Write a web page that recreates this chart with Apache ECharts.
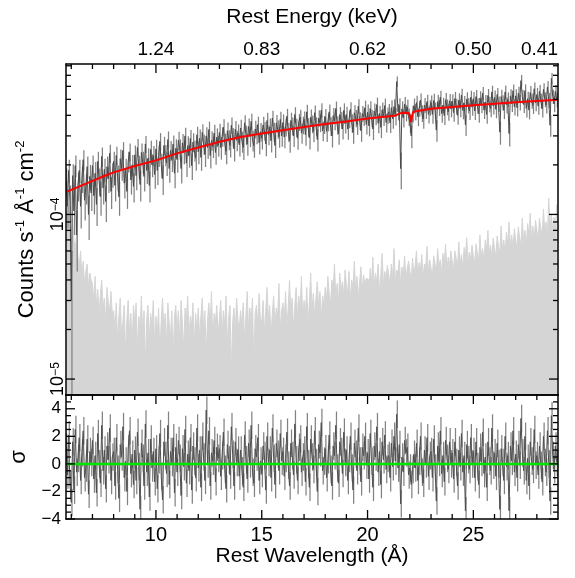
<!DOCTYPE html>
<html><head><meta charset="utf-8">
<script src="https://cdn.jsdelivr.net/npm/echarts@6/dist/echarts.min.js"></script>
<style>html,body{margin:0;padding:0;background:#fff}#c{width:575px;height:578px}</style>
</head><body><div id="c"></div>
<script>
// ---- data (flux in units of 1e-6 counts s^-1 A^-1 cm^-2) ----
const binStart = 5.75, binWidth = 0.0625;
const dataFlux = [
160,112,185,120,
30,172,105,198,75,150,185,112,165,215,122,145,195,100,170,135,
198,130,178,115,210,160,128,225,145,188,120,195,165,235,138,175,
210,150,228,168,128,218,190,245,155,188,138,210,240,162,200,148,
230,172,255,195,152,238,208,170,268,185,220,150,248,200,228,175,
250,185,228,278,200,165,262,230,205,285,190,245,215,268,178,252,
215,282,250,190,272,238,300,205,262,228,290,198,275,245,220,305,
240,290,222,315,268,232,300,255,328,228,282,258,312,238,295,262,
315,255,298,338,270,242,322,285,262,348,295,250,330,282,312,265,
335,278,255,360,305,268,342,298,368,282,262,330,308,352,272,318,
290,350,322,268,372,305,340,280,385,318,262,360,330,296,378,300,
362,295,340,395,318,280,372,345,300,405,338,290,365,390,312,350,
378,305,420,340,292,390,355,318,415,345,285,385,360,430,322,352,
392,320,365,420,345,300,398,370,440,350,310,405,375,330,428,355,
405,330,380,435,360,315,415,385,350,455,372,322,410,390,445,352,
418,345,440,385,330,425,395,465,358,410,338,432,392,458,362,400,
420,360,445,380,452,395,640,420,460,190,438,385,468,415,450,392,
360,300,410,458,420,478,392,440,495,412,380,462,428,485,405,445,
478,405,492,430,325,485,445,515,410,462,398,498,450,420,490,438,
488,415,505,455,400,495,440,530,428,475,350,502,460,425,515,448,
505,425,520,458,410,510,462,545,430,482,405,528,468,440,555,455,
515,435,535,470,316,520,478,430,555,462,500,310,525,470,565,450,
525,445,545,480,650,520,465,565,440,505,430,550,490,460,580,475,
535,455,560,490,440,575,500,462,595,495,348,670,520,470,560,498
];
// 1-sigma error per 1-A segment (5.75-6, 6-7, ..., 28-29), same units
const errPerAngstrom = [30,30,30,30,32,34,36,38,40,41,42,43,44,45,46,47,48,48,49,50,50,51,52,52];
const bgFlux = [
105,90,112,85,
80,95,70,62,75,55,48,60,42,52,38,45,50,36,44,40,
38,30,42,28,35,24,33,40,27,31,22,36,29,26,34,25,
26,20,29,17,24,31,18,22,28,14,23,30,19,25,16,28,
22,29,15,24,20,32,18,26,12,23,28,17,25,21,30,16,
24,19,27,14,23,31,20,25,16,29,22,18,26,13,24,28,
20,26,17,30,22,15,27,23,32,18,24,21,29,16,25,20,
27,18,24,31,20,26,14,23,29,21,34,17,25,22,28,19,
23,30,18,26,21,32,16,24,28,11,22,27,19,31,23,20,
26,21,29,17,24,34,20,27,22,31,12,25,28,21,33,23,
22,30,19,26,36,23,28,18,25,32,21,27,24,38,20,26,
29,23,34,21,27,40,25,31,20,28,36,24,32,26,42,23,
30,25,36,22,29,44,26,33,24,31,39,27,34,23,32,28,
36,30,42,33,28,40,35,50,31,38,29,44,34,39,32,46,
38,33,45,30,40,36,52,34,42,31,39,48,35,43,37,41,
40,35,47,38,55,36,44,39,50,34,42,58,37,45,41,49,
43,38,50,41,62,39,46,44,53,37,48,42,56,40,47,52,
45,40,54,43,49,60,42,51,46,57,41,50,48,64,44,53,
47,42,56,50,45,62,48,53,44,58,51,66,46,55,49,60,
52,46,60,54,48,68,50,57,47,63,55,72,51,59,53,65,
56,50,66,58,52,75,55,62,51,70,60,80,57,65,54,72,
62,55,74,64,58,85,60,70,57,78,66,90,63,75,61,82,
70,62,84,72,65,95,68,80,64,88,75,102,70,85,69,92,
80,70,95,82,74,108,77,90,73,125,85,100,79,96,78,115
];
const resid = [
1.2,-0.8,2.1,-1.5,
-2.8,1.6,-1.9,2.5,-0.6,0.4,1.9,-1.2,0.8,2.4,-1.0,-0.3,1.8,-2.2,0.9,0.1,
1.7,-1.1,0.6,-2.1,2.2,0.0,-1.4,2.8,-0.5,1.0,-1.8,1.3,0.3,2.6,-1.2,0.5,
0.9,-1.6,1.9,-0.4,-2.5,1.4,0.5,2.7,-1.0,0.2,-2.0,1.1,2.4,-0.7,0.7,-1.5,
1.0,-1.2,2.3,-0.2,-3.3,1.5,0.4,-1.6,2.9,-0.6,0.8,-2.4,1.8,-0.3,0.9,-1.3,
1.1,-1.8,0.3,2.2,-0.9,-2.6,1.6,0.6,-0.7,2.8,-1.5,0.9,0.1,1.9,-2.1,1.2,
-0.6,1.7,0.4,-2.3,1.1,-0.2,2.5,-1.4,0.7,-0.5,1.9,-1.9,1.3,0.2,-1.0,2.6,
-0.3,1.0,-1.7,2.0,0.5,-1.2,3.9,0.0,2.4,-1.6,0.8,0.2,1.7,-1.3,1.2,0.4,
1.1,-0.9,0.6,2.3,-0.4,-1.8,1.4,0.3,-0.8,2.7,0.7,-1.6,1.6,0.1,1.0,-0.9,
1.0,-0.5,-1.7,2.1,0.3,-1.1,1.5,0.0,2.8,-0.6,-1.4,1.1,0.5,1.9,-1.2,0.2,
-0.7,1.3,0.6,-1.9,2.0,0.1,1.0,-1.0,2.6,0.4,-1.5,1.5,0.7,-0.5,2.2,0.2,
0.9,-0.9,0.4,2.3,-0.1,-1.6,1.5,0.6,-0.8,2.9,0.3,-1.2,1.2,1.8,-0.6,0.5,
1.0,-1.3,2.7,0.0,-1.7,1.8,0.5,-0.4,2.4,0.1,-2.0,1.4,0.8,3.0,-0.5,0.2,
1.1,-1.0,0.3,2.1,-0.4,-1.6,1.3,0.6,2.8,-0.3,-1.4,1.6,0.9,-0.7,2.3,0.1,
1.0,-1.2,0.4,2.0,-0.3,-1.9,1.5,0.7,-0.5,2.6,0.2,-1.3,1.2,0.6,2.0,-0.1,
0.8,-1.1,2.2,0.2,-1.7,1.3,0.5,2.7,-0.6,0.9,-1.5,1.6,0.3,2.1,-0.4,0.4,
0.6,-1.0,1.5,-0.2,2.0,0.2,3.6,-0.3,1.4,-2.9,0.5,-0.6,1.7,0.8,1.2,-0.8,
-0.3,-1.5,-0.4,0.7,-0.3,1.5,-1.2,0.2,2.0,-0.6,-1.4,1.0,0.0,1.9,-0.9,0.6,
0.9,-1.0,1.8,-0.3,-2.7,1.3,0.1,2.4,-0.7,0.6,-1.3,1.7,0.4,-0.4,1.6,0.0,
0.8,-1.1,1.6,0.1,-1.6,1.0,-0.2,2.2,-0.6,0.6,-3.4,1.4,0.3,-0.4,1.9,0.0,
0.9,-1.0,1.6,-0.2,-1.5,1.2,0.1,2.3,-0.7,0.5,-1.7,1.6,0.2,-0.5,2.6,-0.1,
0.8,-0.9,1.5,0.0,-3.3,1.1,0.1,-1.2,2.0,-0.2,0.6,-3.4,1.3,0.2,2.4,-0.6,
0.7,-1.0,1.4,-0.1,3.3,0.8,-0.5,2.0,-1.2,0.4,-1.6,1.6,0.2,-0.4,2.5,-0.1,
0.6,-0.8,1.3,-0.1,-1.3,2.0,0.1,-0.6,2.4,0.0,-2.7,3.5,0.6,-0.4,1.3,0.1
];
const residErr = 1.0; // residuals are in units of sigma
const modelWave = [5.75,6,6.5,7,7.5,8,9,10,11,12,13,14,15,16,17,18,19,20,20.8,21.3,21.5,21.7,21.95,22.0,22.05,22.1,22.15,22.3,23,24,25,26,27,28,29];
const modelFlux = [137,141,150,160,170,180,197,213,235,255,276,295,310,325,340,354,367,382,392,397,410,415,413,395,364,395,418,424,438,450,460,470,480,489,497];
const energyTickPos = [10,15,20,25,29];
const energyTickLabels = ['1.24','0.83','0.62','0.50','0.41'];
const xMajorTicks = [10,15,20,25];
const xMinorTicks = [6,7,8,9,11,12,13,14,16,17,18,19,21,22,23,24,26,27,28];
const logMajorTicks = [1e-5,1e-4];
const logMinorTicks = [2e-5,3e-5,4e-5,5e-5,6e-5,7e-5,8e-5,9e-5,2e-4,3e-4,4e-4,5e-4,6e-4,7e-4,8e-4];
const resMajorTicks = [-4,-2,0,2,4];
const resMinorTicks = [-3.5,-3,-2.5,-1.5,-1,-0.5,0.5,1,1.5,2.5,3,3.5,4.5];
const xMin = 5.75, xMax = 29.0, yMin = 8e-6, yMax = 8.2e-4, rMin = -4, rMax = 5;

// ---- build ----
const FONT = 'Liberation Sans';
const UNIT = 1e-6;
const wl = i => binStart + (i + 0.5) * binWidth;
const segOf = i => Math.floor(wl(i)) - 5;
const fluxPts = dataFlux.map((v, i) => [wl(i), v * UNIT]);
const fluxErrPts = dataFlux.map((v, i) => {
  const e = errPerAngstrom[segOf(i)];
  return [wl(i), Math.max(v - e, 1) * UNIT, (v + e) * UNIT];
});
const bgPts = bgFlux.map((v, i) => [wl(i), v * UNIT]);
const resPts = resid.map((v, i) => [wl(i), v]);
const resErrPts = resid.map((v, i) => [wl(i), v - residErr, v + residErr]);
const modelPts = modelWave.map((w, i) => [w, modelFlux[i] * UNIT]);

const tickItems0 = [].concat(
  xMinorTicks.map(v => [v, 1e-4, 0]), xMajorTicks.map(v => [v, 1e-4, 1]),
  logMinorTicks.map(v => [10, v, 2]), logMajorTicks.map(v => [10, v, 3]));
const tickItems1 = [].concat(
  xMinorTicks.map(v => [v, 0, 0]), xMajorTicks.map(v => [v, 0, 1]),
  resMinorTicks.map(v => [10, v, 2]), resMajorTicks.map(v => [10, v, 3]));

function tickSeries(xi, yi, items, drawBottom) {
  return {
    type: 'custom', xAxisIndex: xi, yAxisIndex: yi, z: 10, silent: true, clip: false,
    data: items, animation: false,
    renderItem: function (params, api) {
      const cs = params.coordSys;
      const p = api.coord([api.value(0), api.value(1)]);
      const kind = api.value(2);
      const len = (kind === 1 || kind === 3) ? 9 : 5;
      const st = { stroke: '#000', lineWidth: 1.3 };
      const ch = [];
      if (kind < 2) {
        ch.push({ type: 'line', shape: { x1: p[0], y1: cs.y, x2: p[0], y2: cs.y + len }, style: st });
        if (drawBottom) ch.push({ type: 'line', shape: { x1: p[0], y1: cs.y + cs.height, x2: p[0], y2: cs.y + cs.height - len }, style: st });
      } else {
        ch.push({ type: 'line', shape: { x1: cs.x, y1: p[1], x2: cs.x + len, y2: p[1] }, style: st });
        ch.push({ type: 'line', shape: { x1: cs.x + cs.width, y1: p[1], x2: cs.x + cs.width - len, y2: p[1] }, style: st });
      }
      return { type: 'group', children: ch };
    }
  };
}
function errSeries(xi, yi, items, color, z) {
  return {
    type: 'custom', xAxisIndex: xi, yAxisIndex: yi, z: z, silent: true, clip: true,
    data: items, animation: false, encode: { x: 0, y: [1, 2] },
    renderItem: function (params, api) {
      const lo = api.coord([api.value(0), api.value(1)]);
      const hi = api.coord([api.value(0), api.value(2)]);
      return { type: 'line', shape: { x1: lo[0], y1: lo[1], x2: hi[0], y2: hi[1] }, style: { stroke: color, lineWidth: 1.25 } };
    }
  };
}

const axLine = { show: true, onZero: false, lineStyle: { color: '#000', width: 1.5 } };
const noTick = { show: false };
const noSplit = { show: false };
const near = (a, b) => Math.abs(a - b) < 1e-6;

const option = {
  animation: false,
  backgroundColor: '#fff',
  textStyle: { fontFamily: FONT, color: '#000' },
  grid: [
    { left: 66, top: 64, width: 492, height: 331, show: false },
    { left: 66, top: 395, width: 492, height: 124, show: false }
  ],
  xAxis: [
    { gridIndex: 0, type: 'value', min: xMin, max: xMax, position: 'bottom', axisLine: axLine, axisTick: noTick, axisLabel: { show: false }, splitLine: noSplit, z: 5 },
    { gridIndex: 0, type: 'value', min: xMin, max: xMax, position: 'top', axisLine: axLine, axisTick: noTick, splitLine: noSplit, z: 5,
      axisLabel: { fontSize: 19, fontFamily: FONT, color: '#000', margin: 5, showMaxLabel: true, alignMaxLabel: 'right',
        formatter: v => { for (let k = 0; k < energyTickPos.length; k++) if (near(v, energyTickPos[k])) return energyTickLabels[k]; return ''; } },
      name: 'Rest Energy (keV)', nameLocation: 'middle', nameGap: 36,
      nameTextStyle: { fontSize: 21, fontFamily: FONT, color: '#000' } },
    { gridIndex: 1, type: 'value', min: xMin, max: xMax, position: 'bottom', axisLine: axLine, axisTick: noTick, splitLine: noSplit, z: 5,
      axisLabel: { fontSize: 20, fontFamily: FONT, color: '#000', margin: 6,
        formatter: v => (near(v, Math.round(v)) && Math.round(v) % 5 === 0) ? String(Math.round(v)) : '' },
      name: 'Rest Wavelength (Å)', nameLocation: 'middle', nameGap: 26,
      nameTextStyle: { fontSize: 21, fontFamily: FONT, color: '#000' } },
    { gridIndex: 1, type: 'value', min: xMin, max: xMax, position: 'top', axisLine: axLine, axisTick: noTick, axisLabel: { show: false }, splitLine: noSplit, z: 5 }
  ],
  yAxis: [
    { gridIndex: 0, type: 'log', logBase: 10, min: yMin, max: yMax, position: 'left', axisLine: axLine, axisTick: noTick, splitLine: noSplit, z: 5,
      axisLabel: { rotate: 90, margin: 0, color: '#000',
        formatter: v => { const e = Math.log10(v), r = Math.round(e); if (Math.abs(e - r) > 1e-6) return ''; return '{b|10}{s|' + (r < 0 ? '−' : '') + Math.abs(r) + '}'; },
        rich: { b: { fontSize: 18, fontFamily: FONT, color: '#000', lineHeight: 16 }, s: { fontSize: 12, fontFamily: FONT, color: '#000', verticalAlign: 'top', lineHeight: 10 } } },
      name: 'Counts s{u|-1} Å{u|-1} cm{u|-2}', nameLocation: 'middle', nameGap: 26, nameRotate: 90,
      nameTextStyle: { fontSize: 22, fontFamily: FONT, color: '#000', lineHeight: 26,
        rich: { u: { fontSize: 13, fontFamily: FONT, color: '#000', verticalAlign: 'top', lineHeight: 13 } } } },
    { gridIndex: 0, type: 'log', logBase: 10, min: yMin, max: yMax, position: 'right', axisLine: axLine, axisTick: noTick, axisLabel: { show: false }, splitLine: noSplit, z: 5 },
    { gridIndex: 1, type: 'value', min: rMin, max: rMax, interval: 2, position: 'left', axisLine: axLine, axisTick: noTick, splitLine: noSplit, z: 5,
      axisLabel: { fontSize: 17, fontFamily: FONT, color: '#000', margin: 5,
        formatter: v => (near(v, rMax) || Math.round(v) % 2 !== 0) ? '' : (v < 0 ? '−' + (-v) : String(v)) },
      name: 'σ', nameLocation: 'middle', nameGap: 36, nameRotate: 90,
      nameTextStyle: { fontSize: 22, fontFamily: FONT, color: '#000' } },
    { gridIndex: 1, type: 'value', min: rMin, max: rMax, position: 'right', axisLine: axLine, axisTick: noTick, axisLabel: { show: false }, splitLine: noSplit, z: 5 }
  ],
  series: [
    { type: 'line', xAxisIndex: 0, yAxisIndex: 0, data: bgPts, step: 'middle', symbol: 'none', z: 1, silent: true,
      lineStyle: { color: '#d5d5d5', width: 1 }, areaStyle: { color: '#d5d5d5', opacity: 1, origin: 'start' } },
    errSeries(0, 0, fluxErrPts, '#828282', 2),
    { type: 'line', xAxisIndex: 0, yAxisIndex: 0, data: fluxPts, step: 'middle', symbol: 'none', z: 3, silent: true,
      lineStyle: { color: '#4a4a4a', width: 1 } },
    { type: 'line', xAxisIndex: 0, yAxisIndex: 0, data: modelPts, symbol: 'none', z: 4, silent: true,
      lineStyle: { color: '#ff0000', width: 2 } },
    tickSeries(0, 0, tickItems0, false),
    errSeries(2, 2, resErrPts, '#828282', 2),
    { type: 'line', xAxisIndex: 2, yAxisIndex: 2, data: resPts, step: 'middle', symbol: 'none', z: 3, silent: true,
      lineStyle: { color: '#4f4f4f', width: 1 } },
    { type: 'line', xAxisIndex: 2, yAxisIndex: 2, data: [[xMin, 0], [xMax, 0]], symbol: 'none', z: 4, silent: true,
      lineStyle: { color: '#00e600', width: 2.5 } },
    tickSeries(2, 2, tickItems1, true)
  ]
};
const chart = echarts.init(document.getElementById('c'), null, { renderer: 'canvas' });
chart.setOption(option);
</script></body></html>
